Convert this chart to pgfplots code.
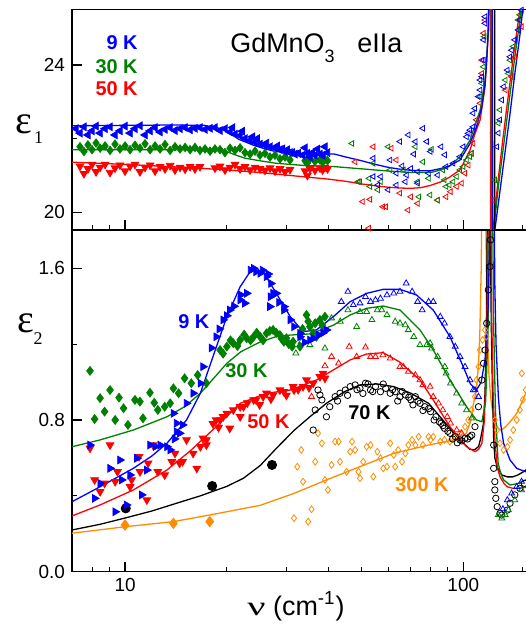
\documentclass[border=0pt]{standalone}
\usepackage{fontspec}
\setmainfont{Liberation Sans}
\newfontfamily\serif{Liberation Serif}
\usepackage{graphicx}
\usepackage{pgfplots}
\pgfplotsset{compat=1.18}

\definecolor{cblue}{RGB}{0,0,255}
\definecolor{cgreen}{RGB}{0,128,0}
\definecolor{cred}{RGB}{255,0,0}
\definecolor{corange}{RGB}{255,140,0}

\pgfplotsset{
  fitline/.style={line width=0.65bp, mark=none},
  dotsz/.style={only marks, mark size=#1},
}

\begin{document}
\begin{tikzpicture}
\useasboundingbox (0,0) rectangle (263bp,312bp);

% ---------------- bottom panel: eps2 ----------------
\begin{axis}[xmode=log, scale only axis, width=228bp,
  xmin=6.97, xmax=155.4,
  axis line style={line width=0.75bp},
  tick align=inside, tick style={line width=0.6bp, black},
  major tick length=5bp, minor tick length=2.5bp,
  xtick pos=bottom, ytick pos=left,
  xtick={10,100},
  minor xtick={7,8,9,20,30,40,50,60,70,80,90,150},
  tick label style={font=\fontsize{9.5}{11}\selectfont},
  /pgf/number format/assume math mode=true,
  at={(36bp,26.15bp)}, anchor=south west,
  height=170.85bp, ymin=0, ymax=1.802,
  log ticks with fixed point,
  ytick={0,0.8,1.6}, minor ytick={0.4,1.2},
  yticklabel style={/pgf/number format/.cd, fixed, fixed zerofill, precision=1},
]
% 300 K
\addplot[dotsz=2.6bp, mark=diamond*, corange] coordinates {(10,0.246) (13.9,0.255) (17.8,0.264)};
\addplot[dotsz=1.7bp, mark=diamond, corange, mark options={line width=0.4bp}] coordinates {
(31.6,0.282) (34.8,0.264) (35.6,0.329) (32.3,0.554) (33.2,0.642) (33.6,0.475) (36.5,0.580) (37.2,0.730)
(38.2,0.677) (39.8,0.431) (39,0.484) (40.8,0.563) (41.8,0.686) (42.8,0.686) (43.2,0.580) (45.2,0.527)
(46.3,0.633) (46.9,0.686) (47.9,0.642) (49,0.527) (49.5,0.493) (50.6,0.580) (51.8,0.659) (53.2,0.668)
(54.2,0.501) (55.7,0.633) (56.9,0.598) (58,0.545) (59.5,0.554) (60.8,0.677) (62.3,0.616) (62.9,0.554)
(64.2,0.642) (65.9,0.580) (67.4,0.624) (68.8,0.668) (70.6,0.695) (72.2,0.668) (73.8,0.712) (76,0.668)
(79,0.712) (80,0.695) (81.5,0.712) (85.5,0.686) (88,0.695) (91.3,0.686) (94.7,0.712) (97.8,0.730)
(101.2,0.765) (103.5,0.80) (105.8,0.853) (108.3,0.923) (109.4,1.011) (110.9,1.081) (112,1.169) (114,1.222)
(116,1.275) (117,1.24) (124,0.80) (125.8,0.747) (128.4,0.677) (131.6,0.642) (135,0.659) (137.5,0.695)
(140.6,0.747) (143.9,0.80) (147,0.853) (150,0.906) (153,0.958) (149,1.046)};
\addplot[fitline, corange] coordinates {
(6.97,0.203) (10,0.237) (13.9,0.264) (17.8,0.299) (25.1,0.35) (31.6,0.413) (39.4,0.484) (49.5,0.554)
(62.3,0.624) (79,0.668) (91.3,0.69) (97.8,0.70) (102,0.73) (105,0.79) (107,0.88) (109.4,0.958)
(111,1.1) (112,1.275) (113,1.6) (114,2.3) (115,3.0) (116,2.3) (117,1.6) (118,1.25) (119,1.05)
(120.5,0.92) (122,0.85) (124,0.80) (126,0.765) (128.4,0.747) (131,0.752) (135,0.774) (139,0.80)
(143.9,0.835) (147,0.87) (150,0.905) (153,0.941) (157,0.99)};
% 70 K
\addplot[dotsz=2.3bp, mark=*, black] coordinates {(10.05,0.334) (18.1,0.452) (27.2,0.563)};
\addplot[dotsz=1.6bp, mark=o, black, mark options={line width=0.4bp}] coordinates {
(36,0.747) (36.5,0.853) (37.7,0.932) (37.2,0.958) (38.2,0.906) (39.4,0.817) (40.3,0.870) (41.8,0.923)
(43.2,0.941) (44.8,0.958) (46.3,0.976) (47.9,0.985) (49.5,0.967) (51.4,0.994) (53.2,0.958) (55,0.976)
(56.9,0.949) (59,0.967) (60.8,0.941) (62.9,0.949) (65,0.923) (67.4,0.932) (70,0.906) (72.2,0.923)
(74.5,0.888) (77,0.870) (80,0.844) (83,0.817) (86,0.783) (88,0.756) (91.3,0.730) (94.7,0.712)
(97.8,0.695) (101.2,0.704) (104.7,0.712) (108.3,0.765) (110.9,0.870) (113.5,1.011) (114.8,1.099) (116,1.169)
(117.3,1.31) (118.6,1.486) (120,1.609) (120.5,1.75)
(42.5,0.90) (45.5,0.93) (48.5,0.96) (50.5,0.94) (52.3,0.99) (54,0.95) (58,0.99) (61.8,0.96)
(64,0.90) (66,0.95) (69,0.92) (71,0.88) (73.5,0.90) (76,0.85) (79,0.86) (82,0.80) (85,0.79)
(87,0.77) (90,0.74) (93,0.70) (96,0.68) (99,0.69) (103,0.70) (106,0.72)
(123,0.668) (123,0.545) (124,0.475) (124,0.431) (124.8,0.387) (126,0.343) (128.4,0.308) (130,0.299)
(135,0.325) (137.5,0.361) (142,0.405) (147,0.44) (151.6,0.466)};
\addplot[fitline, black] coordinates {
(6.97,0.22) (8.44,0.25) (10.1,0.285) (12,0.32) (14.2,0.361) (16.7,0.40) (20,0.45) (22.4,0.493)
(25.1,0.56) (28,0.65) (31.6,0.745) (35.2,0.817) (39.4,0.888) (44.5,0.949) (49.5,0.985) (55.7,0.99)
(62.3,0.976) (70,0.941) (79,0.888) (87,0.80) (97.8,0.695) (104.7,0.645) (108,0.643) (111,0.66)
(112.5,0.7) (114.8,0.783) (116,0.95) (117,1.3) (118,2.0) (119,3.0) (120,2.0) (121,1.3) (122,0.95)
(123,0.70) (124,0.60) (126,0.55) (130,0.51) (135,0.50) (140,0.50) (145,0.51) (150,0.525) (153,0.536) (157,0.56)};
% 50 K
\addplot[dotsz=2.2bp, mark=triangle*, cred, mark options={rotate=180}] coordinates {
(7.88,0.651) (9.03,0.668) (8.13,0.484) (8.44,0.422) (8.7,0.466) (9.35,0.475) (9.5,0.527) (10.35,0.448)
(10.46,0.484) (11,0.607) (11.07,0.527) (11.6,0.378) (11.7,0.572) (12.1,0.668) (12.5,0.527) (13.1,0.510)
(13.75,0.580) (14.05,0.624) (14.5,0.572) (14.8,0.580) (15.2,0.695) (15.9,0.624) (16.3,0.545) (16.7,0.659)
(17.0,0.704) (17.4,0.668) (17.4,0.695) (18.6,0.80) (19.5,0.817) (20.9,0.853) (22.4,0.870) (24.4,0.906)
(25.6,0.923) (27.4,0.932) (29.5,0.949) (31.6,0.958) (33.6,0.976) (36,0.994) (37.7,1.028) (38.5,1.046)
(20.4,0.756) (21.9,0.817) (19.1,0.80) (20,0.835) (21.9,0.870) (24,0.906) (26.2,0.941) (28.7,0.958)
(31.4,0.976) (34.4,1.011) (18.2,0.78) (18.9,0.76) (23,0.89) (25,0.88) (27,0.91) (30,0.93) (32.5,0.96)
(35,0.97) (39,1.02)};
\addplot[dotsz=1.7bp, mark=triangle, cred, mark options={line width=0.4bp}] coordinates {
(35.6,0.923) (39,1.085) (40.8,1.134) (42.8,1.099) (46,1.187) (48.4,1.134) (51.4,1.183) (53.2,1.134)
(55,1.134) (57.9,1.143) (60.8,1.125) (65,1.081) (66.5,1.081) (68.8,1.055) (72.2,1.037) (74.5,1.011)
(76,0.985) (79.8,0.976) (81.5,0.923) (84.5,0.888) (87,0.853) (89.7,0.817) (91.7,0.783) (95.6,0.747)
(98.9,0.730)};
\addplot[fitline, cred] coordinates {
(6.97,0.294) (8.44,0.352) (10.58,0.431) (13.3,0.536) (15.7,0.642) (18.6,0.765) (21.9,0.888) (26.2,0.941)
(30.8,0.958) (36.8,1.011) (41.3,1.064) (46.3,1.117) (51.8,1.148) (58,1.155) (65,1.105) (74.5,1.011)
(81.5,0.906) (91.3,0.765) (102.3,0.659) (108.3,0.633) (111,0.645) (113.5,0.677) (115.5,0.8) (117,1.1)
(118.5,1.8) (119.5,3.0) (120.5,2.0) (121.5,1.3) (122.5,0.95) (124,0.7) (126,0.55) (128.4,0.501)
(132,0.465) (135,0.448) (140,0.44) (147,0.44) (153,0.445) (157,0.45)};
% 30 K
\addplot[dotsz=2.2bp, mark=diamond*, cgreen] coordinates {
(7.88,1.059) (8.13,0.805) (8.44,0.915) (8.7,0.844) (9.03,0.958) (9.35,0.80) (9.6,0.918) (9.9,0.862)
(10.2,0.774) (10.7,0.906) (11.07,0.897) (11.3,0.809) (11.85,0.944) (12.2,0.891) (12.5,0.853) (13.1,0.870)
(13.6,0.888) (13.9,0.967) (14.4,0.941) (15.0,1.020) (15.7,0.994) (16.4,1.037) (17.4,0.994) (19.1,1.169)
(20,1.187) (20.9,1.205) (21.9,1.222) (22.9,1.231) (24,1.239) (25.1,1.239) (26.2,1.257) (27.4,1.275)
(28.7,1.248) (30,1.231) (31.4,1.213) (32.9,1.187) (29.5,1.213) (31.2,1.187) (34.4,1.354) (35.2,1.292)
(36.5,1.31) (37.7,1.328) (39,1.345) (36,1.257) (36.8,1.239) (19.5,1.15) (20.5,1.22) (21.5,1.19)
(22.5,1.25) (23.5,1.22) (24.5,1.26) (25.6,1.22) (26.8,1.27) (28,1.26) (29,1.23) (30.5,1.20)
(33.5,1.28) (34.8,1.32) (38.3,1.30)};
\addplot[dotsz=1.7bp, mark=triangle, cgreen, mark options={line width=0.4bp}] coordinates {
(40.8,1.337) (43.3,1.319) (45.6,1.38) (48.4,1.292) (49.5,1.371) (51.8,1.371) (53.7,1.328) (55.7,1.38)
(57.4,1.38) (59.5,1.354) (62.9,1.319) (65,1.31) (67.4,1.301) (68.8,1.275) (71.4,1.239) (74.5,1.196)
(78,1.196) (79.8,1.205) (80.6,1.178) (84,1.134) (88.2,1.081) (89,1.046) (91.7,0.994) (95.6,0.941)
(98.9,0.888) (102.3,0.853) (105.8,0.809) (32,1.152) (33.2,1.213) (35.2,1.196) (39,1.178)
(127,0.30) (130,0.282) (133,0.30) (136,0.325) (142,0.378) (148.7,0.431)};
\addplot[fitline, cgreen] coordinates {
(6.97,0.659) (8.44,0.695) (10.58,0.747) (13.3,0.817) (15,0.87) (16.7,0.941) (18.5,1.03) (20,1.099)
(22,1.16) (25,1.21) (28,1.24) (30.8,1.248) (35.2,1.254) (38,1.275) (41.3,1.30) (46.3,1.354)
(51.8,1.389) (58,1.401) (65,1.38) (74.5,1.275) (81.5,1.17) (91.3,1.011) (102.3,0.870) (109.4,0.80)
(113.5,0.791) (116.5,0.9) (118.5,1.3) (120,2.2) (121,3.0) (122,2.0) (123,1.3) (124.5,0.85)
(126.8,0.572) (129,0.52) (131.6,0.484) (137.5,0.457) (145,0.465) (153,0.484) (157,0.495)};
% 9 K
\addplot[dotsz=2.2bp, mark=triangle*, cblue, mark options={rotate=-90}] coordinates {
(7.88,0.668) (9.03,0.545) (9.66,0.589) (10.83,0.598) (8.44,0.466) (8.13,0.387) (9.35,0.316) (10.1,0.352)
(11.2,0.405) (9.78,0.484) (10.35,0.510) (11.6,0.536) (11.85,0.668) (12.7,0.668) (13.3,0.659) (13.6,0.642)
(14.5,0.730) (14.8,0.774) (14.2,0.783) (13.9,0.835) (14.2,0.738) (15.2,0.888) (15.9,0.941) (16.7,0.994)
(17.0,1.081) (18.6,1.239) (19.5,1.328) (20.4,1.380) (21.9,1.433) (22.9,1.468) (22.6,1.416) (24.4,1.582)
(25.1,1.574) (26.2,1.556) (26.9,1.450) (26.8,1.398) (28.0,1.468) (29.5,1.398) (30.8,1.328) (31.6,1.292)
(32.9,1.239) (27.4,1.468) (29.5,1.380) (32.9,1.257) (35.2,1.222) (37.4,1.248) (39.4,1.275)
(23.5,1.59) (24.0,1.60) (25.5,1.59) (26.5,1.57) (27.0,1.52) (28.5,1.42) (18.0,1.18) (19.0,1.28)
(20.0,1.35) (21.0,1.40) (22.0,1.46) (14.0,0.70) (12.3,0.66) (34.0,1.21) (36.0,1.23) (38.5,1.26)};
\addplot[dotsz=1.7bp, mark=triangle, cblue, mark options={line width=0.4bp}] coordinates {
(43.6,1.424) (45.6,1.477) (47.3,1.407) (49.5,1.416) (51.4,1.450) (53.2,1.424) (55,1.433) (56.9,1.441)
(59.5,1.459) (62.3,1.468) (65,1.477) (67.8,1.521) (70.6,1.477) (73.3,1.424) (75.6,1.38) (79,1.424)
(81.5,1.424) (85.5,1.345) (88,1.31) (91.3,1.239) (94.7,1.187) (97.8,1.134) (101.2,1.081) (104.7,1.011)
(108.3,0.958) (110.9,0.923) (107,0.958) (131,0.33) (135,0.378) (139,0.413) (143.9,0.448) (148.7,0.475)};
\addplot[fitline, cblue] coordinates {
(6.97,0.369) (8.44,0.448) (10.58,0.545) (12,0.61) (13.3,0.677) (15.2,0.80) (16.7,0.941) (18.2,1.134)
(20,1.345) (21.9,1.503) (23.7,1.595) (25.6,1.582) (28,1.468) (30.8,1.345) (33.6,1.266) (36.8,1.275)
(41.3,1.345) (46.3,1.424) (51.8,1.468) (58,1.489) (65,1.489) (72.8,1.459) (81.5,1.38) (91.3,1.24)
(100,1.081) (105,0.99) (109.4,0.958) (113,1.0) (116,1.12) (118.5,1.4) (120.5,2.0) (122,3.0)
(123,2.2) (124,1.5) (125,1.2) (127,0.92) (129,0.78) (131.6,0.677) (137.5,0.589) (143.9,0.545)
(153,0.527) (157,0.525)};
\end{axis}

% ---------------- top panel: eps1 ----------------
\begin{axis}[xmode=log, scale only axis, width=228bp,
  xmin=6.97, xmax=155.4,
  axis line style={line width=0.75bp},
  tick align=inside, tick style={line width=0.6bp, black},
  major tick length=5bp, minor tick length=2.5bp,
  xtick pos=bottom, ytick pos=left,
  xtick={10,100},
  minor xtick={7,8,9,20,30,40,50,60,70,80,90,150},
  tick label style={font=\fontsize{9.5}{11}\selectfont},
  /pgf/number format/assume math mode=true,
  at={(36bp,197bp)}, anchor=south west,
  height=110.35bp, ymin=19.52, ymax=25.51,
  xticklabels={}, ytick={20,24}, minor ytick={22},
]
% 50 K
\addplot[dotsz=2.2bp, mark=triangle*, cred, mark options={rotate=180}] coordinates {
(7.36,21.25) (7.56,21.05) (7.77,21.18) (7.99,21.30) (8.21,21.10) (8.44,21.22) (8.73,21.30) (9.03,21.08)
(9.34,21.20) (9.66,21.28) (10.0,21.12) (10.35,21.25) (10.70,21.30) (11.07,21.10) (11.46,21.22) (11.86,21.28)
(12.27,21.12) (12.69,21.24) (13.13,21.18) (13.59,21.27) (14.05,21.15) (14.54,21.22) (15.05,21.17) (15.57,21.24)
(16.10,21.18) (16.66,21.24) (18.45,21.20) (19.09,21.25) (19.75,21.15) (20.43,21.22) (21.14,21.30) (21.88,21.18)
(22.63,21.24) (23.42,21.15) (24.23,21.22) (25.06,21.18) (25.93,21.14) (26.83,21.20) (27.76,21.12) (28.72,21.18)
(29.72,21.10) (30.74,21.16) (34.05,21.12) (34.6,21.00) (35.23,21.18) (36.44,21.14) (37.71,21.20) (38.4,21.15)
(39.01,21.22) (39.7,21.18)};
\addplot[dotsz=1.6bp, mark=triangle, cred, mark options={rotate=90, line width=0.4bp}] coordinates {
(54.2,21.78) (61.3,21.74) (47.9,21.37) (63.4,21.42) (49,20.83) (65,20.52) (70,20.42) (50.4,20.29)
(53,20.35) (57.9,20.15) (59,20.15) (68.7,20.06) (84,20.33) (89,20.42) (91.7,20.56) (95.6,20.70)
(98.9,20.79) (101.2,21.06) (103.5,21.28) (105.8,21.60) (107,21.87) (109.4,22.51) (112.2,22.96) (113.5,23.77)
(113.5,24.13) (114.8,24.86) (116,25.22) (52.6,19.57) (73.3,20.24) (123,20.33) (133.3,23.32) (139,23.68)
(142,24.22) (148.7,25.04)};
% 30 K
\addplot[dotsz=2.1bp, mark=diamond*, cgreen] coordinates {
(7.36,21.78) (7.56,21.65) (7.77,21.83) (7.99,21.70) (8.21,21.88) (8.44,21.74) (8.73,21.80) (9.03,21.68)
(9.34,21.85) (9.66,21.72) (10.0,21.80) (10.35,21.70) (10.70,21.82) (11.07,21.74) (11.46,21.86) (11.86,21.70)
(12.27,21.80) (12.69,21.72) (13.13,21.84) (13.59,21.68) (14.05,21.78) (14.54,21.72) (15.05,21.76) (15.57,21.70)
(16.10,21.76) (16.66,21.68) (17.24,21.72) (17.84,21.66) (18.45,21.72) (19.09,21.70) (19.75,21.62) (20.43,21.74)
(21.14,21.68) (21.88,21.75) (22.63,21.62) (23.42,21.58) (24.23,21.66) (25.06,21.55) (25.93,21.60) (26.83,21.50)
(27.76,21.55) (28.72,21.45) (29.72,21.50) (30.74,21.42) (34.05,21.40) (34.6,21.34) (35.23,21.45) (36.44,21.38)
(37.71,21.42) (38.4,21.36) (39.01,21.44) (39.7,21.40)};
\addplot[dotsz=1.6bp, mark=triangle, cgreen, mark options={rotate=90, line width=0.4bp}] coordinates {
(46.9,21.87) (60,21.78) (72.2,21.78) (80.6,21.71) (76,21.37) (54.2,21.33) (60.8,21.15) (66.6,21.15)
(49.5,20.83) (52.7,20.92) (55.9,20.61) (57,20.83) (74,20.42) (79.8,20.47) (84,20.33) (73.3,20.83)
(79,20.92) (87,21.15) (89,20.70) (93.4,20.83) (95.6,20.97) (97.8,21.15) (100,21.24) (102.3,21.42)
(104.7,21.51) (105.8,21.60) (88,20.88) (91,20.74) (113.5,23.50) (114.8,23.95) (112.2,23.14) (115.5,24.77)
(49,20.83) (53,20.70) (124,20.88) (127,22.42) (128.4,22.78) (133.3,23.59) (136,23.77) (137.5,24.13)
(140.6,24.50) (145.4,25.22) (147,25.36)};
% 9 K
\addplot[dotsz=2.2bp, mark=triangle*, cblue, mark options={rotate=90}] coordinates {
(7.16,22.27) (7.36,22.15) (7.56,22.32) (7.77,22.10) (7.99,22.21) (8.21,22.34) (8.44,22.15) (8.73,22.27)
(9.03,22.32) (9.34,22.10) (9.66,22.21) (10.0,22.34) (10.35,22.15) (10.70,22.27) (11.07,22.35) (11.46,22.10)
(11.86,22.21) (12.27,22.30) (12.69,22.18) (13.13,22.25) (13.59,22.30) (14.05,22.22) (14.54,22.27) (15.05,22.30)
(15.57,22.24) (16.10,22.28) (16.66,22.30) (17.24,22.25) (17.84,22.28) (18.45,22.30) (19.09,22.22) (19.75,22.27)
(20.43,22.18) (21.14,22.12) (21.88,22.08) (22.63,22.00) (23.42,21.95) (24.23,21.90) (25.06,21.85) (25.93,21.82)
(26.83,21.78) (27.76,21.75) (28.72,21.70) (29.72,21.65) (30.74,21.62) (20.8,22.3) (22.2,22.2) (23.8,22.05)
(24.6,22.0) (26.2,21.88) (28.2,21.80) (29.2,21.72) (30.2,21.70) (31.2,21.62) (31.8,21.58) (32.5,21.60)
(33.5,21.55) (34.05,21.75) (34.6,21.6) (35.23,21.50) (35.8,21.62) (36.44,21.55) (37.1,21.72) (37.71,21.58)
(38.4,21.55) (39.01,21.78) (39.7,21.62)};
\addplot[dotsz=1.6bp, mark=triangle, cblue, mark options={rotate=90, line width=0.4bp}] coordinates {
(76.0,22.28) (68.8,22.10) (72.2,21.92) (65,21.92) (78,21.92) (86,21.78) (71.4,21.58) (80,21.65)
(88.2,21.56) (54.2,21.47) (60.8,21.42) (66,21.26) (70,21.19) (54.2,20.97) (57,20.97) (63.4,21.06)
(68,21.01) (73.3,21.10) (79,21.06) (84,21.01) (89,21.24) (93.4,21.33) (97.8,21.51) (100,21.78)
(102.3,22.05) (103.5,22.14) (104.7,22.23) (107,22.32) (107,22.69) (108.3,22.82) (110.9,23.14) (112.2,23.32)
(112.2,23.59) (113.5,23.68) (114.8,24.13) (114.8,24.68) (116,25.13) (116,25.31) (55.9,20.74) (60,20.61)
(63.4,20.74) (67.4,20.83) (73.3,20.79) (125.8,21.78) (127,22.15) (128.4,22.51) (130,23.05) (131.6,23.41)
(135,23.86) (137.5,24.22) (139,24.40) (142,24.68) (145.4,24.95) (147,25.22) (148.7,25.49)};
% fits
\addplot[fitline, cred] coordinates {
(6.97,21.36) (10,21.30) (15,21.22) (20,21.15) (25,21.08) (30,21.01) (35,20.95) (40,20.90)
(45,20.84) (50,20.77) (55,20.72) (60,20.68) (65,20.66) (70,20.65) (75,20.67) (80,20.73)
(86,20.83) (91,20.95) (97.8,21.15) (104.7,21.69) (108,22.1) (112.2,22.51) (116,23.41) (118.6,24.86)
(119.2,27) (119.8,40) (120.8,10) (122.5,19.52) (126.5,20.8) (131,22.0) (136,23.2) (141,24.3)
(146,25.3) (149,26)};
\addplot[fitline, cgreen] coordinates {
(6.97,21.70) (14,21.70) (18,21.69) (20,21.65) (21,21.57) (22.6,21.47) (25,21.40) (28,21.33)
(34,21.27) (41.6,21.24) (50,21.18) (60,21.12) (70,21.08) (80,21.08) (86,21.15) (91,21.25)
(97.8,21.51) (104.7,21.96) (112.2,22.78) (116,23.59) (118.6,24.86) (119.6,27) (120.5,40) (121.5,10)
(123,19.52) (127,20.7) (132,21.9) (137,23.1) (142,24.2) (147,25.2) (150,25.9)};
\addplot[fitline, cblue] coordinates {
(6.97,22.35) (10,22.36) (14,22.37) (17.2,22.36) (19,22.28) (20,22.20) (21.7,21.98) (24,21.82)
(26,21.72) (27.9,21.65) (30,21.62) (33.9,21.60) (41.6,21.58) (45,21.50) (50,21.40) (55,21.30)
(60,21.22) (65,21.17) (70,21.14) (75,21.13) (80,21.13) (86,21.19) (91,21.26) (97.8,21.42)
(104.7,21.87) (109.4,22.32) (113.5,22.87) (116,23.50) (117.3,24.13) (118.6,25.04) (119.8,27) (121.5,40)
(122.5,10) (124,19.52) (128.4,20.58) (133,21.65) (137.5,22.68) (142,23.75) (147,24.8) (150,25.51) (153,26.2)};
\addplot[line width=0.65bp, black] coordinates {(123.8,19) (123.9,26)};
\end{axis}

% ---------------- labels ----------------
\node[anchor=center, font=\fontsize{20}{20}\selectfont\serif] at (12bp,250bp) {ε};
\node[anchor=center, font=\fontsize{9}{9}\selectfont\serif] at (19.25bp,243bp) {1};
\node[anchor=center, font=\fontsize{20}{20}\selectfont\serif] at (13bp,150.5bp) {ε};
\node[anchor=center, font=\fontsize{9}{9}\selectfont\serif] at (19bp,142.5bp) {2};
\node[anchor=base west, inner sep=0pt, font=\fontsize{13.5}{14}\selectfont] at (123.5bp,4.5bp)
  {\scalebox{1.5}[1]{\serif ν} (cm\textsuperscript{-1})};
\node[anchor=base west, inner sep=0pt, font=\fontsize{13.5}{14}\selectfont] at (115bp,285.5bp)
  {GdMnO\raisebox{-5bp}{\fontsize{9}{9}\selectfont 3}};
\node[anchor=base west, inner sep=0pt, font=\fontsize{13.5}{14}\selectfont] at (178.5bp,285.5bp) {eIIa};
\begin{scope}[every node/.style={inner sep=0pt, font=\fontsize{10}{11}\selectfont\bfseries}]
\node[anchor=base east, text=cblue] at (69bp,287bp) {9 K};
\node[anchor=base east, text=cgreen] at (69bp,275.3bp) {30 K};
\node[anchor=base east, text=cred] at (69bp,264bp) {50 K};
\node[anchor=base west, text=cblue] at (89bp,147.8bp) {9 K};
\node[anchor=base west, text=cgreen] at (112.5bp,123.2bp) {30 K};
\node[anchor=base west, text=cred] at (123.5bp,97.8bp) {50 K};
\node[anchor=base west, text=black] at (174bp,102bp) {70 K};
\node[anchor=base west, text=corange] at (197.5bp,66.2bp) {300 K};
\end{scope}
\end{tikzpicture}
\end{document}
